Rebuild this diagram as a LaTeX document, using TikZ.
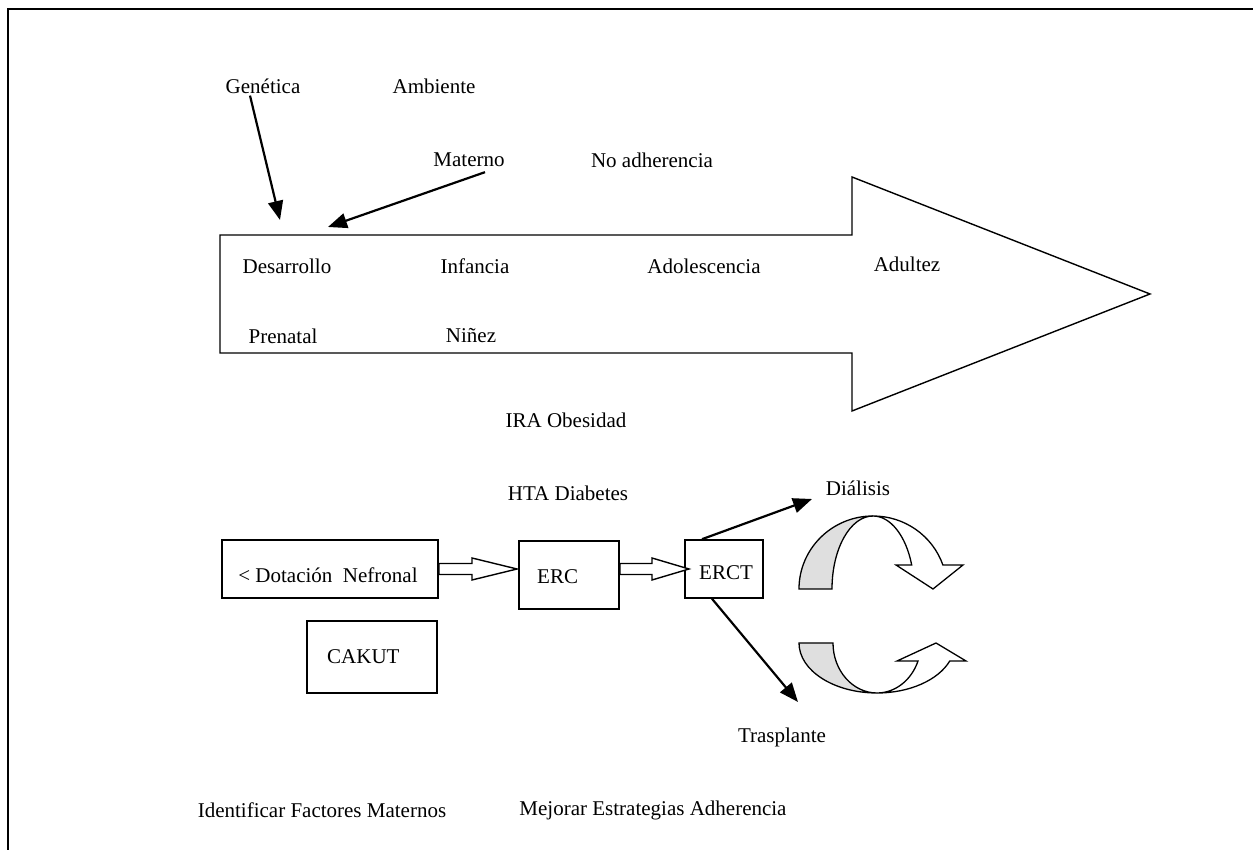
\documentclass[tikz,border=0pt]{standalone}
\usepackage{fontspec}
\setmainfont{Liberation Serif}
\usetikzlibrary{arrows.meta}
\begin{document}
\begin{tikzpicture}[x=1pt,y=1pt,
  lbl/.style={inner sep=0pt,font=\fontsize{21}{25}\selectfont},
  boxn/.style={draw,line width=1.6pt,inner sep=0pt},
  conn/.style={line width=2.2pt,-{Triangle[length=19pt,width=15pt]}},
  blockarrow/.style={draw,line width=1.4pt,fill=white,line join=miter},
  curv/.style={draw,line width=1.3pt,line join=miter}]
\useasboundingbox (0,0) rectangle (1253,850);
% frame
\draw[line width=1.6pt] (1253,841) -- (8,841) -- (8,0);
% big arrow
\draw[line width=1.4pt,line join=miter] (220,615) -- (852,615) -- (852,673) -- (1150,556) -- (852,439) -- (852,497) -- (220,497) -- cycle;
% texts
\node[lbl] (gen) at (263,764) {Genética};
\node[lbl] (amb) at (434,764) {Ambiente};
\node[lbl] (mat) at (469,690) {Materno};
\node[lbl] (noad) at (652,690) {No adherencia};
\node[lbl] (des) at (287,584) {Desarrollo};
\node[lbl] (inf) at (475,584) {Infancia};
\node[lbl] (ado) at (704,584) {Adolescencia};
\node[lbl] (adu) at (907,586) {Adultez};
\node[lbl] (pre) at (283,514) {Prenatal};
\node[lbl] (nin) at (471,514) {Niñez};
\node[lbl] (ira) at (566,430) {IRA Obesidad};
\node[lbl] (hta) at (568,357) {HTA Diabetes};
\node[lbl] (dia) at (858,362) {Diálisis};
\node[lbl] (tra) at (782,113) {Trasplante};
\node[lbl] (ifm) at (322,40) {Identificar Factores Maternos};
\node[lbl] (mea) at (653,40) {Mejorar Estrategias Adherencia};
% boxes
\node[boxn,minimum width=216pt,minimum height=58pt] (dot) at (330,281) {};
\node[lbl] at (328,275) {< Dotación\ \ Nefronal};
\node[boxn,minimum width=130pt,minimum height=72pt] (cak) at (372,193) {};
\node[lbl,anchor=west] at (327,193) {CAKUT};
\node[boxn,minimum width=100pt,minimum height=68pt] (erc) at (569,275) {};
\node[lbl,anchor=west] at (537,273) {ERC};
\node[boxn,minimum width=78pt,minimum height=58pt] (erct) at (724,281) {};
\node[lbl] at (726,277) {ERCT};
% connectors
\coordinate (genE) at (280,630);
\coordinate (matE) at (328,623);
\draw[conn] (gen.south) ++(-13,-2) -- (genE);
\draw[conn] (mat.south) ++(16,-5) -- (matE);
\draw[conn] (erct.north) ++(-22,0) -- (812,351) coordinate (diaE);
\draw[conn] (erct.south) ++(-12,0) -- (798,148) coordinate (traE);
% block arrows
\draw[blockarrow] (dot.east |- 0,286.5) -- (472,286.5) -- (472,292) -- (517,281) -- (472,270) -- (472,275.5) -- (dot.east |- 0,275.5) -- cycle;
\draw[blockarrow] (erc.east |- 0,286.5) -- (652,286.5) -- (652,292) -- (689,281) -- (652,270) -- (652,275.5) -- (erc.east |- 0,275.5) -- cycle;
% curved arrows (top)
\filldraw[curv,fill=gray!25] (799,261) arc[start angle=180,end angle=90,x radius=74,y radius=73]
  arc[start angle=90,end angle=180,x radius=41,y radius=73] -- cycle;
\filldraw[curv,fill=white] (873,334) arc[start angle=90,end angle=19.2,x radius=74,y radius=73]
  -- (963,285) -- (933,261) -- (896,285) -- (911.7,285)
  arc[start angle=19.2,end angle=90,x radius=41,y radius=73] -- cycle;
% curved arrows (bottom)
\filldraw[curv,fill=gray!25] (799,207) arc[start angle=180,end angle=270,x radius=78,y radius=50]
  arc[start angle=270,end angle=180,x radius=44,y radius=50] -- cycle;
\filldraw[curv,fill=white] (877,157) arc[start angle=270,end angle=338.9,x radius=78,y radius=50]
  -- (966,189) -- (936,207) -- (897,189) -- (918,189)
  arc[start angle=338.9,end angle=270,x radius=44,y radius=50] -- cycle;
\end{tikzpicture}
\end{document}
